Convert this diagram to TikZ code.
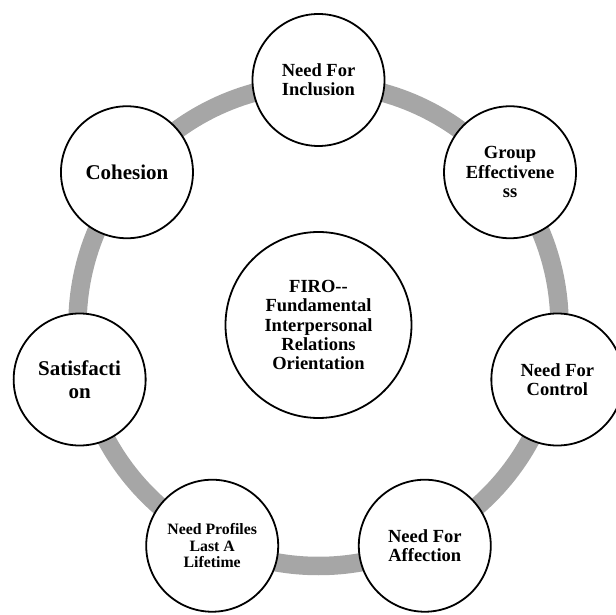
\documentclass[tikz,border=0pt]{standalone}
\usepackage{fontspec}
\setmainfont{Liberation Serif}
\usepackage{tikz}
\usetikzlibrary{positioning}
\definecolor{ringgray}{HTML}{A6A6A6}
\tikzset{
  firoring/.style={draw=ringgray,line width=18.5pt},
  fironode/.style={circle,draw=black,line width=1.8pt,fill=white,minimum size=132pt,inner sep=0pt,align=center,font=\bfseries\fontsize{18.5}{19.3}\selectfont},
  firobig/.style={fironode,font=\bfseries\fontsize{21}{23}\selectfont},
  firosmall/.style={fironode,font=\bfseries\fontsize{15.8}{16.7}\selectfont},
  firocenter/.style={fironode,minimum size=186pt}
}

\begin{document}
\begin{tikzpicture}
  \useasboundingbox (-318.5pt,-290pt) rectangle (297.5pt,325pt);
  \coordinate (hub) at (0,0);
  \draw[firoring] (hub) circle[radius=241pt];
  \node[firocenter] (firo) at (hub) {FIRO-{}-\\Fundamental\\Interpersonal\\Relations\\Orientation};
  \node[fironode] (incl) at (90:245pt) {Need For\\Inclusion};
  \node[fironode] (effect) at (38.571:245pt) {Group\\Effectivene\\ss};
  \node[fironode] (control) at (-12.857:245pt) {Need For\\Control};
  \node[fironode] (affect) at (-64.286:245pt) {Need For\\Affection};
  \node[firosmall] (profiles) at (-115.714:245pt) {Need Profiles\\Last A\\Lifetime};
  \node[firobig] (satisf) at (-167.143:245pt) {Satisfacti\\on};
  \node[firobig] (cohesion) at (141.429:245pt) {Cohesion};
\end{tikzpicture}
\end{document}
